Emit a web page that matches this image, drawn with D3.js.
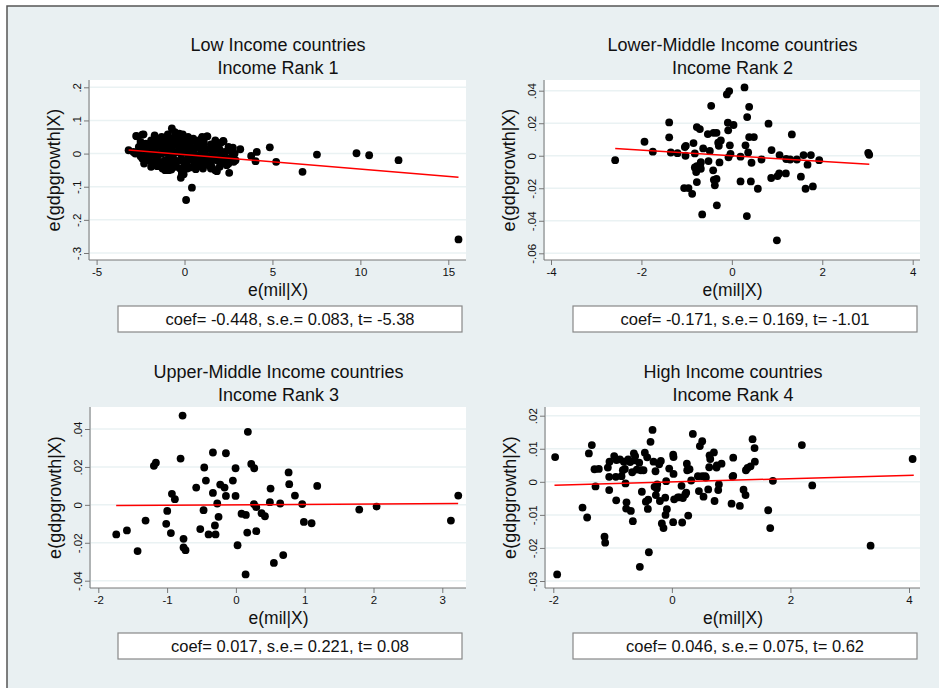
<!DOCTYPE html>
<html>
<head>
<meta charset="utf-8">
<script src="https://cdn.jsdelivr.net/npm/d3@7"></script>
<style>
  body { margin: 0; background: #fff; }
  svg { display: block; font-family: "Liberation Sans", Arial, sans-serif; }
</style>
</head>
<body>
<svg id="chart"></svg>
<script>
// panel texts
const titles = ["Low Income countries", "Lower-Middle Income countries", "Upper-Middle Income countries", "High Income countries"];
const subtitles = ["Income Rank 1", "Income Rank 2", "Income Rank 3", "Income Rank 4"];
const notes = [
  "coef= -0.448, s.e.= 0.083, t= -5.38",
  "coef= -0.171, s.e.= 0.169, t= -1.01",
  "coef= 0.017, s.e.= 0.221, t= 0.08",
  "coef= 0.046, s.e.= 0.075, t= 0.62"
];

// tick values
const xTicksLow = [-5, 0, 5, 10, 15];
const yTicksLow = [-0.3, -0.2, -0.1, 0, 0.1, 0.2];
const xTicksLowerMid = [-4, -2, 0, 2, 4];
const yTicksLowerMid = [-0.06, -0.04, -0.02, 0, 0.02, 0.04];
const xTicksUpperMid = [-2, -1, 0, 1, 2, 3];
const yTicksUpperMid = [-0.04, -0.02, 0, 0.02, 0.04];
const xTicksHigh = [-2, 0, 2, 4];
const yTicksHigh = [-0.03, -0.02, -0.01, 0, 0.01, 0.02];

// residual points [e(mil|X), e(gdpgrowth|X)]
const pointsLow = [
  [-3.18,0.010],[-2.71,0.052],[-2.33,0.058],[-0.72,0.076],[1.27,0.052],[2.22,0.037],[3.17,0.013],
  [3.79,-0.007],[4.11,0.005],[4.04,-0.023],[4.85,0.019],[5.21,-0.025],[6.71,-0.055],[7.53,-0.003],
  [9.78,0.001],[10.50,-0.005],[12.17,-0.020],[15.58,-0.259],[0.09,-0.140],[0.42,-0.103],
  [-0.21,-0.073],[-0.15,-0.062],[0.64,-0.047],[2.54,-0.058],[1.84,-0.053],[1.55,-0.040],
  [-2.75,0.053],[-2.4,0.057],[-1.7,0.055],[-1.3,0.05],[-0.95,0.058],[-0.55,0.065],[-0.3,0.06],
  [-0.1,0.058],[0.2,0.05],[0.5,0.045],[1.0,0.05],[1.3,0.052],[-1.55,0.045],
  [-2.5,0.035],[-2.2,0.03],[-1.9,0.04],[-1.6,0.038],[-1.4,0.042],[-1.1,0.045],[-0.85,0.04],
  [-0.6,0.048],[-0.4,0.045],[-0.2,0.04],[0,0.042],[0.3,0.035],[0.6,0.038],[0.8,0.03],[1.1,0.025],
  [1.5,0.028],[1.8,0.025],[2.05,0.032],[2.2,0.038],[2.5,0.02],[2.75,0.018],
  [-2.9,0.005],[-2.6,0.02],[-2.3,0.015],[-2.0,0.022],[-1.75,0.025],[-1.5,0.02],[-1.25,0.028],
  [-1.0,0.025],[-0.75,0.03],[-0.5,0.028],[-0.25,0.025],[0.05,0.022],[0.35,0.02],[0.65,0.018],
  [0.9,0.015],[1.2,0.01],[1.45,0.015],[1.7,0.01],[2.0,0.012],[2.3,0.005],[2.6,0.008],[2.85,0.0],
  [-2.8,0.0],[-2.5,-0.008],[-2.2,0.0],[-1.95,-0.005],[-1.7,0.005],[-1.45,-0.002],[-1.2,0.008],
  [-0.95,0.0],[-0.7,0.01],[-0.45,0.005],[-0.2,-0.002],[0.1,0.005],[0.4,0.0],[0.7,-0.005],
  [0.95,0.0],[1.25,-0.008],[1.55,-0.005],[1.85,-0.01],[2.15,-0.012],[2.45,-0.015],[2.7,-0.01],[2.9,-0.02],
  [-2.4,-0.015],[-2.1,-0.02],[-1.85,-0.025],[-1.6,-0.018],[-1.35,-0.025],[-1.1,-0.02],[-0.85,-0.025],
  [-0.6,-0.018],[-0.35,-0.022],[-0.1,-0.02],[0.15,-0.025],[0.45,-0.018],[0.75,-0.02],[1.0,-0.015],
  [1.3,-0.025],[1.6,-0.02],[1.9,-0.022],[2.2,-0.025],[2.5,-0.03],[2.8,-0.025],
  [-1.9,-0.04],[-1.55,-0.038],[-1.25,-0.045],[-1.0,-0.04],[-0.75,-0.048],[-0.5,-0.04],[-0.25,-0.045],
  [0.0,-0.038],[0.3,-0.042],[0.55,-0.035],[0.85,-0.038],[1.15,-0.032],[1.5,-0.045],[1.75,-0.05],
  [2.0,-0.04],[2.4,-0.035],[-0.15,-0.055],[-0.05,-0.062],[-0.9,-0.05],[-1.1,-0.05],
  [-1.8,0.015],[-1.3,0.0],[-0.8,-0.01],[-0.6,0.0],[-0.3,0.015],[0.2,-0.01],[0.5,0.01],[0.8,-0.03],
  [1.1,0.035],[-1.6,-0.008],[-2.0,0.01],[-0.5,-0.03],[0.0,-0.03],[0.3,0.03],[-1.0,0.012],[-0.4,0.052],
  [-0.1,0.012],[0.6,-0.012],[1.4,-0.035],[1.75,0.04],[2.05,-0.005],[-2.3,-0.03],[-1.4,0.03],
  [0.9,0.042],[-0.7,-0.035],[0.15,-0.045],[1.05,-0.045],[-2.6,0.005],[-1.2,-0.035]
];
const pointsLowerMid = [
  [0.28,0.0420],[-0.059,0.0398],[-0.111,0.0377],[-0.457,0.0307],[0.383,0.0301],[0.339,0.0238],
  [-1.386,0.0205],[-0.088,0.0203],[0.037,0.0189],[0.811,0.0197],[-0.774,0.0176],[-0.708,0.0164],
  [-0.081,0.0156],[-0.406,0.0141],[-0.339,0.0141],[-0.531,0.0133],[1.327,0.0131],[-1.386,0.0113],
  [0.383,0.0115],[0.487,0.0115],[-0.243,0.0094],[-0.302,0.0080],[-1.932,0.0086],[-0.848,0.0078],
  [-1.018,0.0061],[-1.040,0.0053],[-0.288,0.0061],[-0.044,0.0064],[0.302,0.0064],[-0.634,0.0045],
  [0.878,0.0035],[-1.748,0.0025],[-1.350,0.0020],[-1.202,0.0016],[-0.819,0.0014],[-0.487,0.0029],
  [-0.029,0.0012],[0.361,0.0020],[0.192,-0.0006],[-0.074,-0.0010],[-1.025,0.0],[1.055,0.0004],
  [1.586,0.0004],[1.748,0.0004],[3.016,0.0018],[3.038,0.0006],[1.202,-0.0020],[1.29,-0.0023],
  [1.438,-0.0023],[0.656,-0.0023],[1.932,-0.0027],[-2.581,-0.0027],[-0.516,-0.0033],[-0.273,-0.0041],
  [0.435,-0.0043],[1.674,-0.0055],[-0.774,-0.0064],[-0.819,-0.0072],[-0.693,-0.0047],[-0.686,-0.0080],
  [-0.413,-0.0090],[-0.789,-0.0100],[1.047,-0.0109],[1.195,-0.0109],[1.010,-0.0125],[0.870,-0.0137],
  [1.527,-0.0129],[-0.398,-0.0148],[-0.339,-0.0143],[0.192,-0.0158],[0.420,-0.0158],[-0.774,-0.0162],
  [-0.376,-0.0182],[-1.055,-0.0199],[-0.959,-0.0199],[0.575,-0.0203],[1.630,-0.0203],[1.792,-0.0189],
  [-0.878,-0.0234],[-0.332,-0.0305],[-0.656,-0.0361],[0.332,-0.0371],[0.996,-0.0520],[-0.686,-0.0039]
];
const pointsUpperMid = [
  [-0.775,0.0471],[0.174,0.0385],[-0.334,0.0276],[-0.145,0.0272],[-0.804,0.0244],[-1.163,0.0222],
  [-1.192,0.0206],[-0.460,0.0197],[-0.005,0.0193],[0.223,0.0216],[0.266,0.0193],[0.766,0.0171],
  [-0.436,0.0128],[-0.044,0.0128],[-0.228,0.0107],[-0.165,0.0091],[-0.577,0.0091],[0.775,0.0109],
  [1.182,0.0100],[0.504,0.0086],[-0.334,0.0063],[-0.930,0.0058],[-0.887,0.0030],[-0.145,0.0047],
  [-0.005,0.0047],[0.858,0.0049],[-0.271,0.0007],[0.262,0.0004],[0.296,-0.0012],[0.494,0.0014],
  [0.644,0.0007],[0.964,0.0004],[3.232,0.0049],[-0.998,-0.0032],[-0.470,-0.0028],[0.082,-0.0047],
  [0.145,-0.0053],[0.373,-0.0044],[0.422,-0.0060],[-0.252,-0.0063],[-1.313,-0.0083],[-1.013,-0.0100],
  [-0.305,-0.0109],[-0.518,-0.0128],[0.988,-0.0090],[1.100,-0.0097],[1.793,-0.0025],[2.045,-0.0009],
  [3.125,-0.0083],[-1.584,-0.0135],[-1.739,-0.0156],[-0.945,-0.0149],[-0.397,-0.0156],[-0.296,-0.0156],
  [0.165,-0.0146],[0.296,-0.0139],[-0.761,-0.0179],[-0.761,-0.0225],[-0.732,-0.0239],[-1.429,-0.0244],
  [0.024,-0.0213],[0.688,-0.0265],[0.552,-0.0306],[0.141,-0.0367]
];
const pointsHigh = [
  [-1.969,0.0075],[-1.935,-0.0280],[-1.350,0.0111],[-1.400,0.0086],[-1.305,0.0038],[-1.232,0.0039],
  [-1.288,-0.0014],[-1.507,-0.0078],[-1.429,-0.0108],[-1.136,-0.0166],[-1.125,-0.0184],[-1.080,0.0043],
  [-1.052,0.0061],[-1.057,0.0015],[-1.057,-0.0025],[-0.973,0.0078],[-0.934,0.0066],[-0.945,0.0015],
  [-0.939,-0.0056],[-0.877,0.0068],[-0.849,0.0017],[-0.827,0.0035],[-0.793,0.0039],[-0.782,-0.0005],
  [-0.765,-0.0062],[-0.771,-0.0081],[-0.737,0.0068],[-0.692,-0.0088],[-0.669,0.0029],[-0.658,-0.0119],
  [-0.641,0.0086],[-0.619,0.0078],[-0.630,0.0065],[-0.591,0.0037],[-0.551,0.0058],[-0.540,-0.0257],
  [-0.523,0.0035],[-0.506,-0.0030],[-0.478,0.0035],[-0.456,0.0088],[-0.439,-0.0060],[-0.416,0.0074],
  [-0.399,-0.0054],[-0.405,-0.0082],[-0.388,-0.0213],[-0.360,0.0121],[-0.326,0.0157],[-0.309,0.0061],
  [-0.276,0.0032],[-0.292,-0.0015],[-0.270,-0.0040],[-0.247,-0.0008],[-0.214,0.0053],[-0.186,0.0063],
  [-0.202,-0.0058],[-0.169,-0.0126],[-0.141,-0.0140],[-0.112,-0.0048],[-0.107,-0.0100],[-0.096,0.0002],
  [-0.084,-0.0083],[-0.045,0.0040],[0.022,0.0082],[0.028,0.0075],[0.028,0.0024],[0.022,-0.0122],
  [0.039,-0.0053],[0.101,-0.0047],[0.129,-0.0047],[0.163,-0.0012],[0.174,-0.0123],[0.186,-0.0049],
  [0.225,-0.0038],[0.242,-0.0033],[0.253,0.0055],[0.259,0.0035],[0.276,-0.0102],[0.298,0.0038],
  [0.326,0.0004],[0.354,0.0145],[0.439,0.0017],[0.456,-0.0028],[0.472,0.0108],[0.512,0.0123],
  [0.512,0.0017],[0.534,-0.0045],[0.562,0.0017],[0.574,0.0013],[0.613,-0.0023],[0.636,0.0080],
  [0.647,0.0069],[0.630,0.0044],[0.709,0.0089],[0.720,-0.0058],[0.754,0.0043],[0.793,-0.0008],
  [0.782,-0.0025],[0.838,0.0055],[1.007,-0.0066],[1.024,0.0016],[1.035,0.0073],[1.035,0.0018],
  [1.147,-0.0073],[1.209,-0.0024],[1.243,-0.0040],[1.249,0.0035],[1.277,0.0042],[1.327,0.0047],
  [1.361,0.0129],[1.395,0.0102],[1.400,0.0061],[1.625,-0.0086],[1.659,-0.0140],[1.704,0.0003],
  [2.193,0.0111],[2.368,-0.0011],[3.352,-0.0193],[4.061,0.0069],[-0.810,0.0061],[-0.703,0.0060],
  [-0.253,-0.0020],[0.759,0.0050]
];

// fitted line end points
const fitLow = [[-3.18, 0.011], [15.58, -0.0716]];
const fitLowerMid = [[-2.58, 0.0045], [3.04, -0.0053]];
const fitUpperMid = [[-1.74, -0.00035], [3.23, 0.0007]];
const fitHigh = [[-1.98, -0.0010], [4.08, 0.0020]];

const width = 939, height = 688;
const svg = d3.select("#chart").attr("width", width).attr("height", height);

// background frame
svg.append("rect").attr("x", 7).attr("y", 6).attr("width", 960).attr("height", 720)
  .attr("fill", "#e9f0f2").attr("stroke", "#555").attr("stroke-width", 1.5);

// layout of each panel: plot box, pixel spots of first/last tick, note box
const layout = [
  { left: 90, right: 466, top: 80, bottom: 260, xr: [96.6, 448.3], yr: [253, 87.3], dy: 0, bx: 118 },
  { left: 545, right: 920, top: 80, bottom: 260, xr: [551, 912.7], yr: [253.3, 90.7], dy: 0, bx: 573 },
  { left: 91, right: 466, top: 407, bottom: 588, xr: [98.3, 442.3], yr: [580.7, 429], dy: 327, bx: 118 },
  { left: 546, right: 920, top: 407, bottom: 588, xr: [553.3, 909], yr: [581, 415.7], dy: 327, bx: 573 }
];

const panels = [
  { xt: xTicksLow, yt: yTicksLow, pts: pointsLow, fit: fitLow },
  { xt: xTicksLowerMid, yt: yTicksLowerMid, pts: pointsLowerMid, fit: fitLowerMid },
  { xt: xTicksUpperMid, yt: yTicksUpperMid, pts: pointsUpperMid, fit: fitUpperMid },
  { xt: xTicksHigh, yt: yTicksHigh, pts: pointsHigh, fit: fitHigh }
];

// Stata style labels: .2  -.06
const fmt = d => d === 0 ? "0" : String(+d.toFixed(4)).replace("0.", ".");

panels.forEach((p, i) => {
  const L = layout[i];
  const g = svg.append("g");
  const x = d3.scaleLinear().domain([p.xt[0], p.xt[p.xt.length - 1]]).range(L.xr);
  const y = d3.scaleLinear().domain([p.yt[0], p.yt[p.yt.length - 1]]).range(L.yr);
  const cx = (L.left + L.right) / 2;

  // titles
  g.append("text").attr("x", cx).attr("y", 51 + L.dy).attr("text-anchor", "middle")
    .attr("font-size", "18px").attr("fill", "#111").text(titles[i]);
  g.append("text").attr("x", cx).attr("y", 74 + L.dy).attr("text-anchor", "middle")
    .attr("font-size", "18px").attr("fill", "#111").text(subtitles[i]);

  // plot region
  g.append("rect").attr("x", L.left).attr("y", L.top)
    .attr("width", L.right - L.left).attr("height", L.bottom - L.top).attr("fill", "#fff");

  // grid lines
  g.selectAll(".grid").data(p.yt).enter().append("line")
    .attr("x1", L.left).attr("x2", L.right)
    .attr("y1", d => y(d)).attr("y2", d => y(d))
    .attr("stroke", "#eaf2f3").attr("stroke-width", 1.5);

  // y axis
  const ya = g.append("g").attr("transform", `translate(${L.left - 1},0)`)
    .call(d3.axisLeft(y).tickValues(p.yt).tickSize(5).tickFormat(fmt));
  ya.select(".domain").attr("d", `M-0,${L.top}V${L.bottom}`).attr("stroke", "#777");
  ya.selectAll(".tick line").attr("stroke", "#777");
  ya.selectAll(".tick text")
    .attr("x", 0).attr("dy", 0).attr("y", -8)
    .attr("transform", "rotate(-90)")
    .attr("text-anchor", "middle")
    .attr("font-size", "11.5px").attr("fill", "#111")
    .attr("font-family", "Liberation Sans, Arial, sans-serif");

  // x axis
  const xa = g.append("g").attr("transform", `translate(0,${L.bottom})`)
    .call(d3.axisBottom(x).tickValues(p.xt).tickSize(5).tickFormat(fmt));
  xa.select(".domain").attr("d", `M${L.left - 1},0H${L.right}`).attr("stroke", "#777");
  xa.selectAll(".tick line").attr("stroke", "#777");
  xa.selectAll(".tick text").attr("y", 8).attr("font-size", "11.5px").attr("fill", "#111")
    .attr("font-family", "Liberation Sans, Arial, sans-serif");

  // axis titles
  g.append("text").attr("x", cx).attr("y", L.bottom + 36).attr("text-anchor", "middle")
    .attr("font-size", "17.5px").attr("fill", "#111").text("e(mil|X)");
  g.append("text")
    .attr("transform", `translate(${L.left - 30},${(L.top + L.bottom) / 2}) rotate(-90)`)
    .attr("text-anchor", "middle").attr("font-size", "18px").attr("fill", "#111")
    .text("e(gdpgrowth|X)");

  // points
  g.selectAll("circle").data(p.pts).enter().append("circle")
    .attr("cx", d => x(d[0])).attr("cy", d => y(d[1])).attr("r", 3.9).attr("fill", "#000");

  // fitted line
  g.append("path").datum(p.fit)
    .attr("d", d3.line().x(d => x(d[0])).y(d => y(d[1])))
    .attr("stroke", "#ff0000").attr("stroke-width", 1.5).attr("fill", "none");

  // note box
  g.append("rect").attr("x", L.bx).attr("y", 306 + L.dy).attr("width", 344).attr("height", 26)
    .attr("fill", "#fff").attr("stroke", "#888").attr("stroke-width", 1.2);
  g.append("text").attr("x", L.bx + 172).attr("y", 325 + L.dy).attr("text-anchor", "middle")
    .attr("font-size", "16.5px").attr("fill", "#111").text(notes[i]);
});
</script>
</body>
</html>
